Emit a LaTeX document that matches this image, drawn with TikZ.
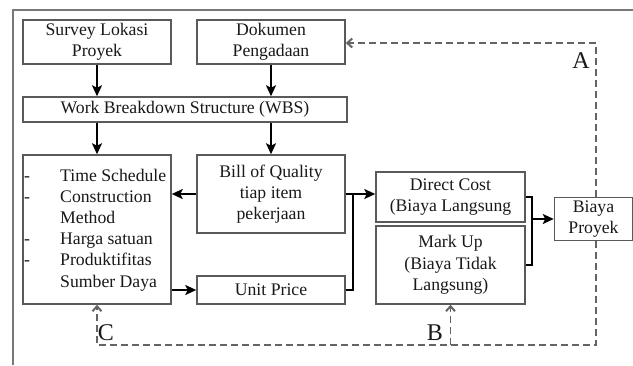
\documentclass[tikz,border=0pt]{standalone}
\usepackage{fontspec}
\setmainfont{Liberation Serif}
\usetikzlibrary{arrows.meta}
\definecolor{boxgray}{RGB}{90,90,90}
\definecolor{dgray}{RGB}{100,100,100}
\definecolor{framegray}{RGB}{120,120,120}
\definecolor{txt}{RGB}{25,25,25}
\begin{document}
\begin{tikzpicture}[x=1pt,y=-1pt,
 box/.style={draw=boxgray, line width=1.5pt, rectangle, inner sep=0pt, align=center, text=txt, font=\fontsize{17.7}{21.3}\selectfont},
 txtn/.style={inner sep=0pt, text=txt, font=\fontsize{17.7}{21.3}\selectfont, anchor=base west},
 arr/.style={line width=2.4pt, -{Stealth[length=11pt,width=10pt,inset=2.5pt]}},
 ln/.style={line width=2.4pt, line join=miter},
 dsh/.style={draw=dgray, line width=1.5pt, dash pattern=on 7pt off 4pt},
 darr/.style={dsh, -{Straight Barb[length=5pt,width=9pt,line width=2pt]}},
 lbl/.style={text=txt, font=\fontsize{24}{26}\selectfont, inner sep=0pt}
]
\useasboundingbox (0,0) rectangle (633,365);
\fill[white] (0,0) rectangle (633,365);
\draw[framegray, line width=1.3pt] (13,365) -- (13,10) -- (633,10);

\node[box, minimum width=148pt, minimum height=44pt] (survey) at (97,42) {Survey Lokasi\\Proyek};
\node[box, minimum width=148pt, minimum height=44pt] (dokumen) at (271,42) {Dokumen\\Pengadaan};
\node[box, minimum width=324pt, minimum height=25pt] (wbs) at (185,109.5) {Work Breakdown Structure (WBS)};
\node[box, minimum width=148pt, minimum height=149pt] (list) at (97,229.5) {};
\node[box, minimum width=148pt, minimum height=78pt] (boq) at (271,194) {Bill of Quality\\tiap item\\pekerjaan};
\node[box, minimum width=148pt, minimum height=28pt] (unit) at (271,290) {Unit Price};
\node[box, minimum width=149pt, minimum height=50pt] (direct) at (450.5,197) {Direct Cost\\(Biaya Langsung};
\node[box, minimum width=149pt, minimum height=78pt] (markup) at (450.5,265) {Mark Up\\(Biaya Tidak\\Langsung)};
\node[box, minimum width=78pt, minimum height=43pt] (biaya) at (593.5,219) {Biaya\\Proyek};

\node[txtn] (l1) at (60,181) {Time Schedule};
\node[txtn] (l2) at (60,202.2) {Construction};
\node[txtn] (l3) at (60,223.4) {Method};
\node[txtn] (l4) at (60,244.6) {Harga satuan};
\node[txtn] (l5) at (60,265.8) {Produktifitas};
\node[txtn] (l6) at (60,287) {Sumber Daya};
\node[txtn] (d1) at (24,181) {-};
\node[txtn] (d2) at (24,202.2) {-};
\node[txtn] (d4) at (24,244.6) {-};
\node[txtn] (d5) at (24,265.8) {-};

\draw[arr] (survey.south) -- (survey.south |- wbs.north);
\draw[arr] (dokumen.south) -- (dokumen.south |- wbs.north);
\draw[arr] (survey.south |- wbs.south) -- (list.north);
\draw[arr] (boq.north |- wbs.south) -- (boq.north);
\draw[arr] (boq.west) -- (boq.west -| list.east);
\draw[arr] (unit.west -| list.east) -- (unit.west);

\coordinate (j1) at (353,195);
\draw[ln] (unit.east) -- (unit.east -| j1) -- (boq.east -| j1);
\draw[ln] (boq.east) -- (boq.east -| j1);
\draw[arr] (boq.east -| j1) -- (boq.east -| direct.west);

\coordinate (j2) at (532,219);
\draw[ln] (direct.east) -- (direct.east -| j2) -- (markup.east -| j2) -- (markup.east);
\draw[arr] (j2) -- (j2 -| biaya.west);

\coordinate (cA) at (596,43);
\coordinate (cB) at (596,345);
\draw[darr] (biaya.north -| cA) -- (cA) -- (cA -| dokumen.east);
\draw[darr] (biaya.south -| cB) -- (cB) -- (cB -| list.south) -- (list.south);
\draw[darr] (markup.south |- cB) -- (markup.south);

\node[lbl] (labA) at (581,61) {A};
\node[lbl] (labB) at (435,333) {B};
\node[lbl] (labC) at (106,333) {C};
\end{tikzpicture}
\end{document}
